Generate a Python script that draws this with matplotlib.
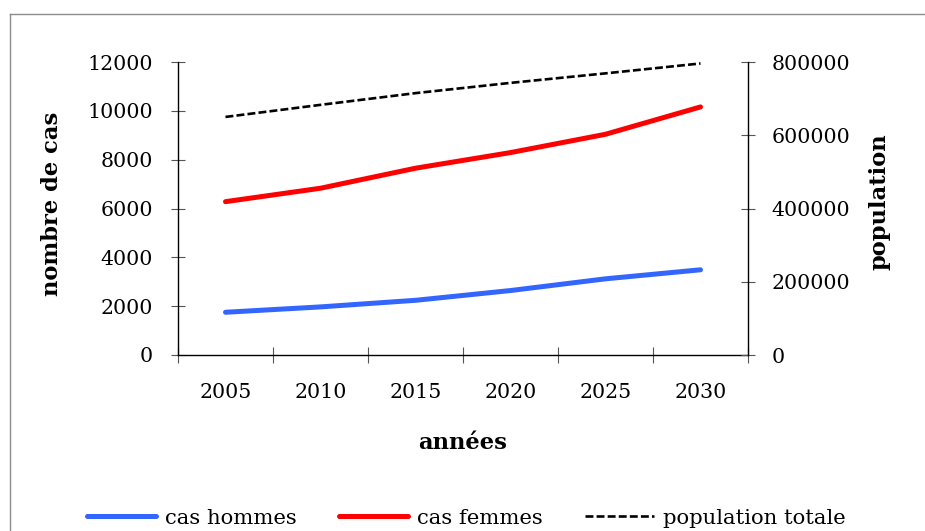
"""Nombre de cas projetés par sexe et population totale, 2005-2030."""

import matplotlib.pyplot as plt
from matplotlib.lines import Line2D

annees = ["2005", "2010", "2015", "2020", "2025", "2030"]
cas_hommes = [1750, 1970, 2240, 2640, 3120, 3490]
cas_femmes = [6280, 6830, 7650, 8290, 9040, 10160]
population_totale = [650000, 683000, 715000, 743000, 769000, 796000]

FONT = "DejaVu Serif"
SIZE = 14.8
LABEL_SIZE = 16.3
BLUE = "#3366ff"
RED = "#ff0000"


def main() -> None:
    plt.rcParams["font.family"] = [FONT]
    fig = plt.figure(figsize=(9.25, 5.31), dpi=100)
    ax = fig.add_axes([178 / 925, 1 - 355 / 531, 570 / 925, 293 / 531])
    ax2 = ax.twinx()

    x = [i + 0.5 for i in range(len(annees))]
    h1, = ax.plot(x, cas_hommes, color=BLUE, lw=3.6, solid_capstyle="round", label="cas hommes")
    h2, = ax.plot(x, cas_femmes, color=RED, lw=3.6, solid_capstyle="round", label="cas femmes")
    h3, = ax2.plot(x, population_totale, color="black", lw=1.9, dashes=(3, 1.2), label="population totale")

    ax.set_xlim(0, len(annees))
    ax.set_ylim(0, 12000)
    ax.set_yticks(range(0, 12001, 2000))
    ax2.set_ylim(0, 800000)
    ax2.set_yticks(range(0, 800001, 200000))

    ax.set_xticks(range(len(annees) + 1))
    ax.set_xticklabels([])
    ax.set_xticks(x, minor=True)
    ax.set_xticklabels(annees, minor=True)
    ax.tick_params(axis="x", which="major", direction="inout", length=12, width=0.8, color="#555555")
    ax.tick_params(axis="x", which="minor", length=0, pad=20, labelsize=SIZE)
    ax.tick_params(axis="y", direction="inout", length=10, width=0.8, color="#555555", pad=13, labelsize=SIZE)
    ax2.tick_params(axis="y", direction="inout", length=10, width=0.8, color="#555555", pad=12, labelsize=SIZE)

    for a in (ax, ax2):
        a.spines["top"].set_visible(False)
        for s in a.spines.values():
            s.set_linewidth(1.0)
    ax.spines["right"].set_visible(False)
    ax2.spines["left"].set_visible(False)
    ax2.spines["bottom"].set_visible(False)

    ax.set_xlabel("années", fontsize=LABEL_SIZE, fontweight="bold", va="center")
    ax.xaxis.set_label_coords(0.5, (355 - 443) / 293)
    ax.set_ylabel("nombre de cas", fontsize=LABEL_SIZE, fontweight="bold", va="center")
    ax.yaxis.set_label_coords((52 - 178) / 570, 0.515)
    ax2.set_ylabel("population", fontsize=LABEL_SIZE, fontweight="bold", va="center", rotation=90)
    ax2.yaxis.set_label_coords((879 - 178) / 570, 0.522)

    fig.legend(handles=[h1, h2, h3], loc="center", bbox_to_anchor=(466 / 925, 1 - 518 / 531),
               ncol=3, frameon=False, fontsize=15.2, handlelength=3.3, handletextpad=0.4,
               columnspacing=2.0, borderpad=0)

    # chart area border (partly cut off at right and bottom)
    fx, fy = 10 / 925, 1 - 14 / 531
    fig.add_artist(Line2D([fx, fx], [0, fy], transform=fig.transFigure, color="#8c8c8c", lw=1))
    fig.add_artist(Line2D([fx, 1], [fy, fy], transform=fig.transFigure, color="#8c8c8c", lw=1))

    fig.savefig("out.png", dpi=100)
    plt.close(fig)


if __name__ == "__main__":
    main()
